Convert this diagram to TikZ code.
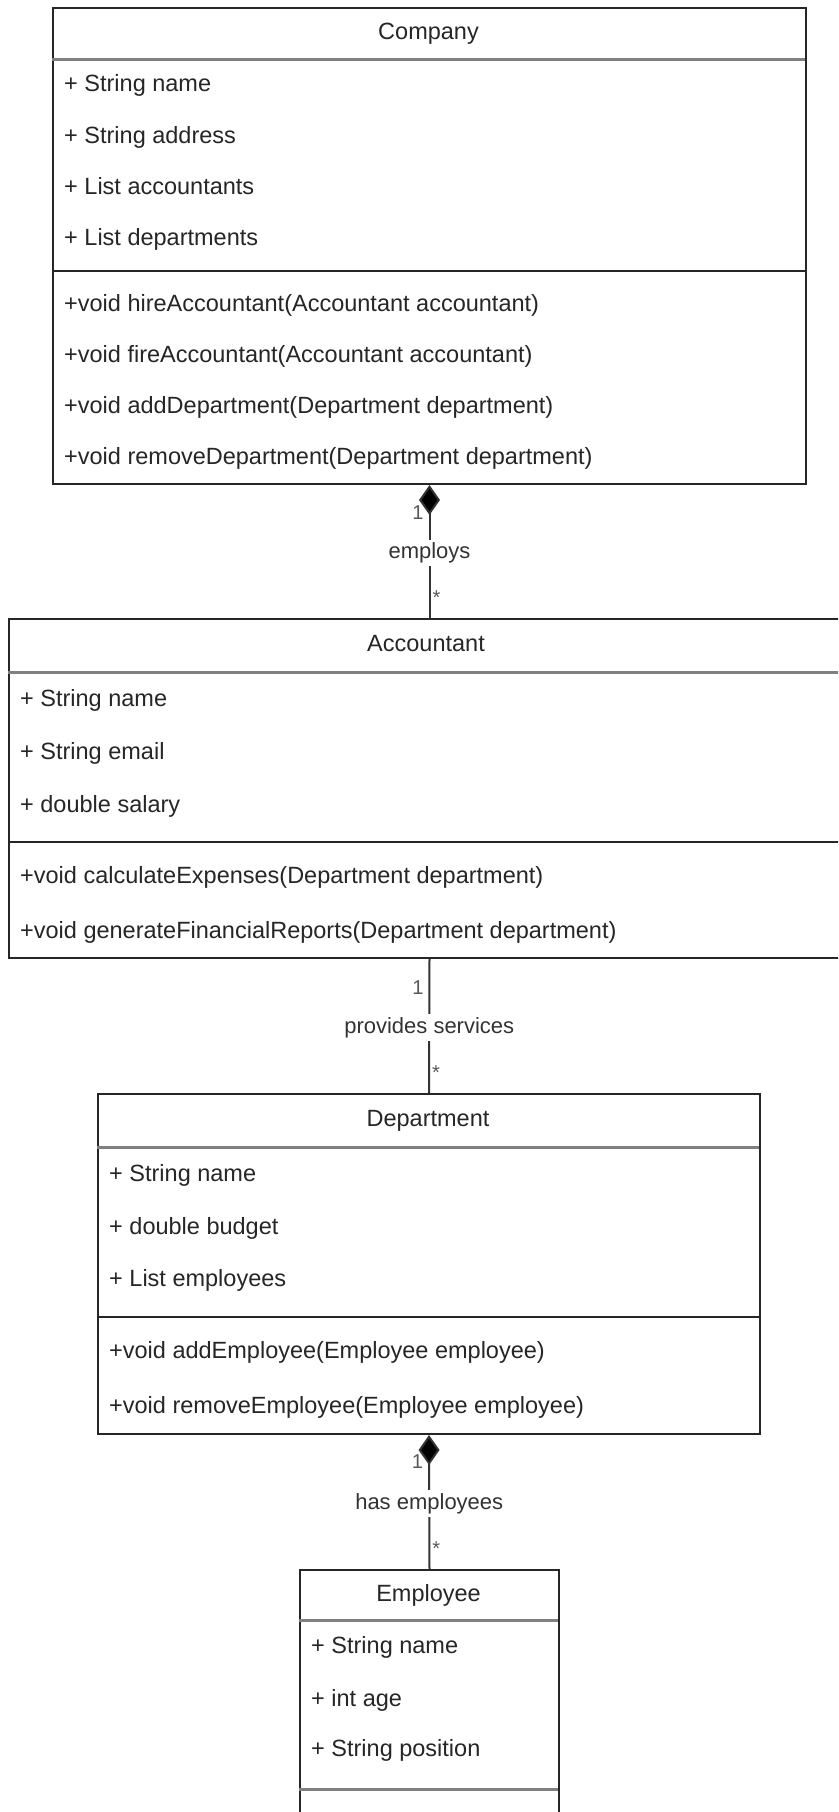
\documentclass[tikz,border=0pt]{standalone}
\usepackage{fontspec}
\setmainfont{Liberation Sans}
\usetikzlibrary{arrows.meta}

\begin{document}
\begin{tikzpicture}[x=1pt,y=-1pt,
        box/.style={draw=black!85,line width=2pt,anchor=north west,inner sep=0pt},
        member/.style={anchor=west,font=\fontsize{23.5}{28}\selectfont,text=black!85,inner sep=0pt,text height=17pt,text depth=5pt},
        title/.style={member,anchor=center},
        divider/.style={draw=black!50,line width=3pt},
        rule/.style={draw=black!85,line width=2pt},
        link/.style={draw=black!80,line width=2pt},
        owner/.style={link,{Diamond[length=30pt,width=21pt,fill=black]}-},
        role/.style={fill=white,font=\fontsize{22}{26}\selectfont,text=black!80,inner sep=3pt},
        mult/.style={font=\fontsize{20}{24}\selectfont,text=black!65,inner sep=1pt}]
                        \useasboundingbox (0,0) rectangle (838,1812);
                        \clip (0,0) rectangle (838,1812);
                        \fill[white] (0,0) rectangle (838,1812);

                        \node[box,minimum width=753pt,minimum height=476pt] (company) at (52,7) {};
                        \node[title] (companyname) at (428.5,33) {Company};
                        \draw[divider] (52,59) -- (805,59);
                        \node[member] (cname) at (64,85) {+ String name};
                        \node[member] (caddress) at (64,137) {+ String address};
                        \node[member] (caccountants) at (64,188) {+ List accountants};
                        \node[member] (cdepartments) at (64,239) {+ List departments};
                        \draw[rule] (52,271) -- (805,271);
                        \node[member] (chire) at (64,305) {+void hireAccountant(Accountant accountant)};
                        \node[member] (cfire) at (64,356) {+void fireAccountant(Accountant accountant)};
                        \node[member] (cadd) at (64,407) {+void addDepartment(Department department)};
                        \node[member] (cremove) at (64,458) {+void removeDepartment(Department department)};

                        \node[box,minimum width=836pt,minimum height=339pt] (accountant) at (8,618) {};
                        \node[title] (accountantname) at (426,645) {Accountant};
                        \draw[divider] (8,672) -- (844,672);
                        \node[member] (aname) at (20,700) {+ String name};
                        \node[member] (aemail) at (20,753) {+ String email};
                        \node[member] (asalary) at (20,806) {+ double salary};
                        \draw[rule] (8,842) -- (844,842);
                        \node[member] (acalc) at (20,877) {+void calculateExpenses(Department department)};
                        \node[member] (areports) at (20,932) {+void generateFinancialReports(Department department)};

                        \node[box,minimum width=662pt,minimum height=340pt] (department) at (97,1093) {};
                        \node[title] (departmentname) at (428,1120) {Department};
                        \draw[divider] (97,1147) -- (759,1147);
                        \node[member] (dname) at (109,1175) {+ String name};
                        \node[member] (dbudget) at (109,1228) {+ double budget};
                        \node[member] (demployees) at (109,1280) {+ List employees};
                        \draw[rule] (97,1317) -- (759,1317);
                        \node[member] (dadd) at (109,1352) {+void addEmployee(Employee employee)};
                        \node[member] (dremove) at (109,1407) {+void removeEmployee(Employee employee)};

                        \node[box,minimum width=259pt,minimum height=300pt] (employee) at (299,1569) {};
                        \node[title] (employeename) at (428.5,1595) {Employee};
                        \draw[divider] (299,1620) -- (558,1620);
                        \node[member] (ename) at (311,1647) {+ String name};
                        \node[member] (eage) at (311,1700) {+ int age};
                        \node[member] (eposition) at (311,1750) {+ String position};
                        \draw[divider] (299,1789) -- (558,1789);

                        \draw[owner] (company.south) -- (company.south |- accountant.north)
                            node[mult,pos=0.21,anchor=east,xshift=-4pt] (employsone) {1}
                            node[role,pos=0.51] (employs) {employs}
                            node[mult,pos=0.85,anchor=west,xshift=1pt] (employsmany) {*};
                        \draw[link] (company.south |- accountant.south) -- (department.north)
                            node[mult,pos=0.21,anchor=east,xshift=-4pt] (servesone) {1}
                            node[role,pos=0.51] (serves) {provides services}
                            node[mult,pos=0.85,anchor=west,xshift=1pt] (servesmany) {*};
                        \draw[owner] (department.south) -- (employee.north)
                            node[mult,pos=0.2,anchor=east,xshift=-4pt] (hasone) {1}
                            node[role,pos=0.51] (has) {has employees}
                            node[mult,pos=0.85,anchor=west,xshift=1pt] (hasmany) {*};
                    \end{tikzpicture}
\end{document}
